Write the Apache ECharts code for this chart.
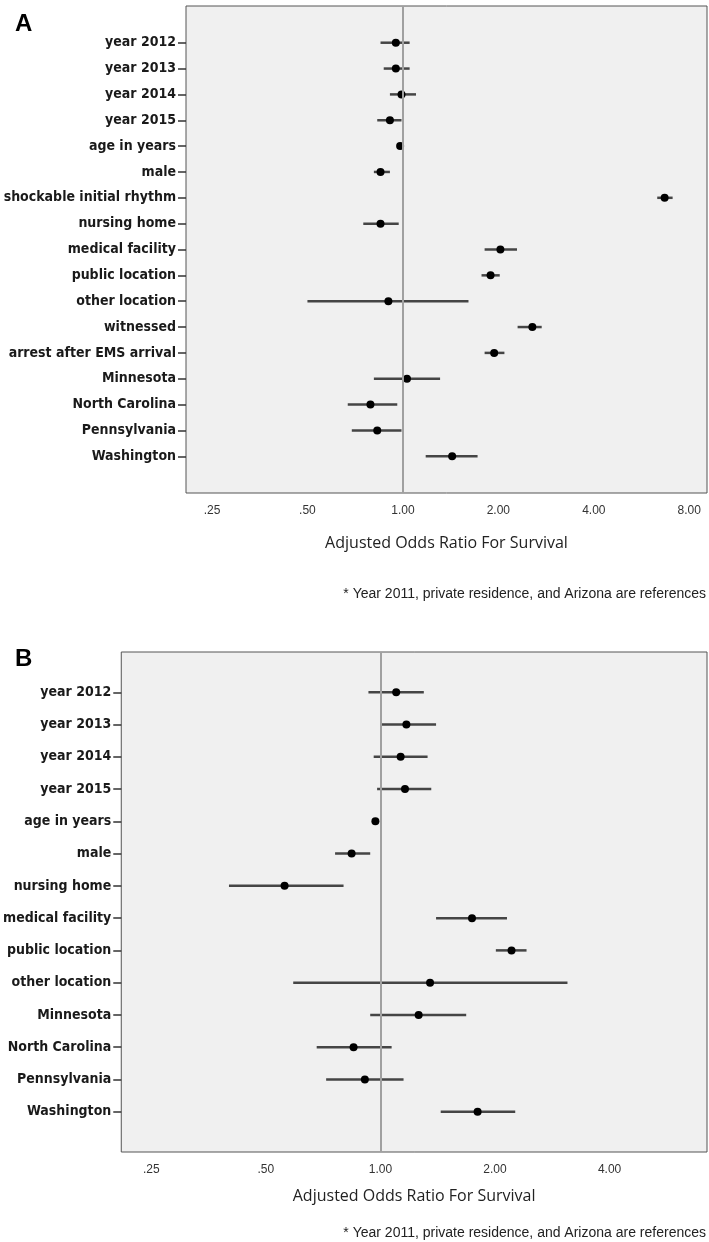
<!DOCTYPE html>
<html>
<head>
<meta charset="utf-8">
<script src="https://cdn.jsdelivr.net/npm/echarts@6/dist/echarts.min.js"></script>
<style>
  html, body { margin: 0; padding: 0; background: #fff; }
  #main { width: 709px; height: 1242px; }
</style>
</head>
<body>
<div id="main"></div>
<script>
var dom = document.getElementById('main');
var myChart = echarts.init(dom, null, { renderer: 'canvas' });

// Panel A
var categoriesA = ['year 2012', 'year 2013', 'year 2014', 'year 2015', 'age in years', 'male',
  'shockable initial rhythm', 'nursing home', 'medical facility', 'public location', 'other location',
  'witnessed', 'arrest after EMS arrival', 'Minnesota', 'North Carolina', 'Pennsylvania', 'Washington'];
var orA   = [0.95, 0.95, 0.99, 0.91, 0.98, 0.85, 6.69, 0.85, 2.03, 1.89, 0.90, 2.56, 1.94, 1.03, 0.79, 0.83, 1.43];
var lowA  = [0.85, 0.87, 0.91, 0.83, 0.975, 0.81, 6.34, 0.75, 1.81, 1.77, 0.50, 2.30, 1.81, 0.81, 0.67, 0.69, 1.18];
var highA = [1.05, 1.05, 1.10, 0.99, 0.985, 0.91, 7.09, 0.97, 2.29, 2.02, 1.61, 2.74, 2.09, 1.31, 0.96, 0.99, 1.72];
var xTicksA = [0.25, 0.5, 1, 2, 4, 8];

// Panel B
var categoriesB = ['year 2012', 'year 2013', 'year 2014', 'year 2015', 'age in years', 'male',
  'nursing home', 'medical facility', 'public location', 'other location',
  'Minnesota', 'North Carolina', 'Pennsylvania', 'Washington'];
var orB   = [1.10, 1.17, 1.13, 1.16, 0.97, 0.84, 0.56, 1.74, 2.21, 1.35, 1.26, 0.85, 0.91, 1.80];
var lowB  = [0.93, 1.00, 0.96, 0.98, 0.965, 0.76, 0.40, 1.40, 2.01, 0.59, 0.94, 0.68, 0.72, 1.44];
var highB = [1.30, 1.40, 1.33, 1.36, 0.975, 0.94, 0.80, 2.15, 2.42, 3.10, 1.68, 1.07, 1.15, 2.26];
var xTicksB = [0.25, 0.5, 1, 2, 4];

var footnote = '* Year 2011, private residence, and Arizona are references';
var xTitle = 'Adjusted Odds Ratio For Survival';

function idx(arr) { return arr.map(function (_, i) { return i; }); }
function fmtOR(v) {
  var s = Number(v).toFixed(2);
  return v < 1 ? s.replace(/^0/, '') : s;
}

function ciData(lo, hi) { return lo.map(function (l, i) { return [l, hi[i], i]; }); }
function ptData(or) { return or.map(function (v, i) { return [v, i]; }); }

function renderCI(params, api) {
  var y = api.value(2);
  var p1 = api.coord([api.value(0), y]);
  var p2 = api.coord([api.value(1), y]);
  return {
    type: 'line',
    shape: { x1: p1[0], y1: p1[1], x2: p2[0], y2: p2[1] },
    style: { stroke: '#454545', lineWidth: 2.5 }
  };
}

var labelFont = { fontFamily: 'DejaVu Sans Condensed, sans-serif', fontWeight: 'bold', fontSize: 14, color: '#1a1a1a' };

function xAxisCfg(gridIndex, min, max, ticks, gap) {
  return {
    type: 'log', logBase: 2, gridIndex: gridIndex, min: min, max: max,
    axisLine: { show: false }, splitLine: { show: false },
    axisTick: { show: false },
    axisLabel: {
      customValues: ticks, formatter: fmtOR, margin: 12,
      fontFamily: 'Liberation Sans, sans-serif', fontSize: 12, color: '#333'
    },
    name: xTitle, nameLocation: 'middle', nameGap: gap,
    nameTextStyle: { fontFamily: 'Open Sans, sans-serif', fontSize: 16, color: '#222' }
  };
}

function yAxisCfg(gridIndex, cats, pad) {
  return {
    type: 'value', gridIndex: gridIndex, inverse: true,
    min: -pad, max: cats.length - 1 + pad,
    splitLine: { show: false }, axisLine: { show: false },
    axisTick: { show: true, customValues: idx(cats), length: 8, lineStyle: { color: '#333', width: 1.5 } },
    axisLabel: Object.assign({
      customValues: idx(cats), margin: 10,
      formatter: function (v) { return cats[Math.round(v)]; }
    }, labelFont)
  };
}

var refLine = {
  silent: true, symbol: 'none', label: { show: false },
  lineStyle: { color: '#a0a0a0', width: 2, type: 'solid' },
  data: [{ xAxis: 1 }]
};

var option = {
  animation: false,
  backgroundColor: '#ffffff',
  grid: [
    { left: 186, right: 2, top: 6, height: 487, show: true, backgroundColor: '#f0f0f0', borderColor: '#555', borderWidth: 1 },
    { left: 121, right: 2, top: 652, height: 500, show: true, backgroundColor: '#f0f0f0', borderColor: '#555', borderWidth: 1 }
  ],
  xAxis: [
    xAxisCfg(0, 0.207, 9.1, xTicksA, 42),
    xAxisCfg(1, 0.2085, 7.21, xTicksB, 36)
  ],
  yAxis: [
    yAxisCfg(0, categoriesA, 1.42),
    yAxisCfg(1, categoriesB, 1.25)
  ],
  graphic: [
    { type: 'text', left: 15, top: 12, style: { text: 'A', fontFamily: 'Liberation Sans, Arial, sans-serif', fontWeight: 'bold', fontSize: 24, fill: '#000' } },
    { type: 'text', left: 15, top: 647, style: { text: 'B', fontFamily: 'Liberation Sans, Arial, sans-serif', fontWeight: 'bold', fontSize: 24, fill: '#000' } },
    { type: 'text', right: 3, top: 587, style: { text: footnote, fontFamily: 'Liberation Sans, sans-serif', fontSize: 14, fill: '#222' } },
    { type: 'text', right: 3, top: 1226, style: { text: footnote, fontFamily: 'Liberation Sans, sans-serif', fontSize: 14, fill: '#222' } }
  ],
  series: [
    { type: 'custom', xAxisIndex: 0, yAxisIndex: 0, renderItem: renderCI, encode: { x: [0, 1], y: 2 },
      data: ciData(lowA, highA), markLine: refLine, z: 2 },
    { type: 'scatter', xAxisIndex: 0, yAxisIndex: 0, data: ptData(orA), symbolSize: 8,
      itemStyle: { color: '#000', opacity: 1 }, z: 3 },
    { type: 'custom', xAxisIndex: 1, yAxisIndex: 1, renderItem: renderCI, encode: { x: [0, 1], y: 2 },
      data: ciData(lowB, highB), markLine: refLine, z: 2 },
    { type: 'scatter', xAxisIndex: 1, yAxisIndex: 1, data: ptData(orB), symbolSize: 8,
      itemStyle: { color: '#000', opacity: 1 }, z: 3 }
  ]
};

if (option && typeof option === 'object') {
  myChart.setOption(option);
}

window.addEventListener('resize', myChart.resize);
</script>
</body>
</html>
